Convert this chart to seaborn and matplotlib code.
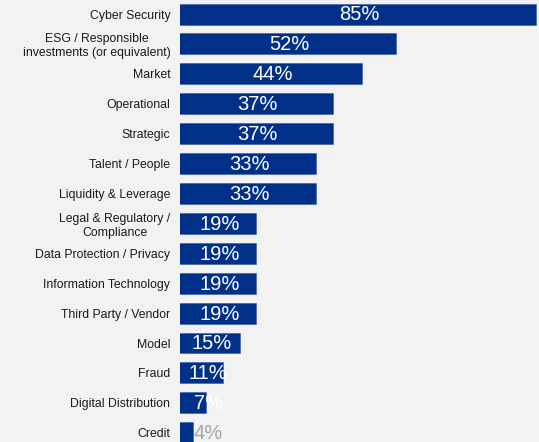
import matplotlib
matplotlib.use("Agg")
import matplotlib.pyplot as plt
import seaborn as sns
import pandas as pd

categories = [
    "Cyber Security",
    "ESG / Responsible\ninvestments (or equivalent)",
    "Market",
    "Operational",
    "Strategic",
    "Talent / People",
    "Liquidity & Leverage",
    "Legal & Regulatory /\nCompliance",
    "Data Protection / Privacy",
    "Information Technology",
    "Third Party / Vendor",
    "Model",
    "Fraud",
    "Digital Distribution",
    "Credit",
]
values = [85, 52, 44, 37, 37, 33, 33, 19, 19, 19, 19, 15, 11, 7, 4]

df = pd.DataFrame({"category": categories, "value": values})

sns.set_style("white")
plt.rcParams["font.family"] = ["Liberation Sans", "DejaVu Sans"]

bg = "#f2f2f2"
navy = "#003087"

fig = plt.figure(figsize=(5.39, 4.42), dpi=100, facecolor=bg)
ax = fig.add_axes([180 / 539, 0, 1 - 180 / 539, 1])
ax.set_facecolor(bg)

sns.barplot(data=df, x="value", y="category", orient="h", color=navy,
            width=0.7, saturation=1, ax=ax, edgecolor="#3a5aa8", linewidth=0.4)

# the value axis starts just under 1%, so every bar begins at the axes edge
ax.set_xlim(0.945, 85.7)
ax.set_ylim(14.31, -0.47)
ax.set_xlabel("")
ax.set_ylabel("")
ax.set_xticks([])
ax.tick_params(axis="y", length=0, pad=7, labelsize=8.8, labelcolor="#1a1a1a")
for lbl in ax.get_yticklabels():
    lbl.set_horizontalalignment("right")
    lbl.set_multialignment("center")
for s in ax.spines.values():
    s.set_visible(False)

for i, v in enumerate(values):
    x = max(v / 2 + 0.8, 7.6)
    color = "white" if v >= 5 else "#a6a6a6"
    ax.text(x, i + 0.03, f"{v}%", ha="center", va="center",
            fontsize=14.5, color=color)

fig.savefig("out.png", dpi=100, facecolor=bg)
